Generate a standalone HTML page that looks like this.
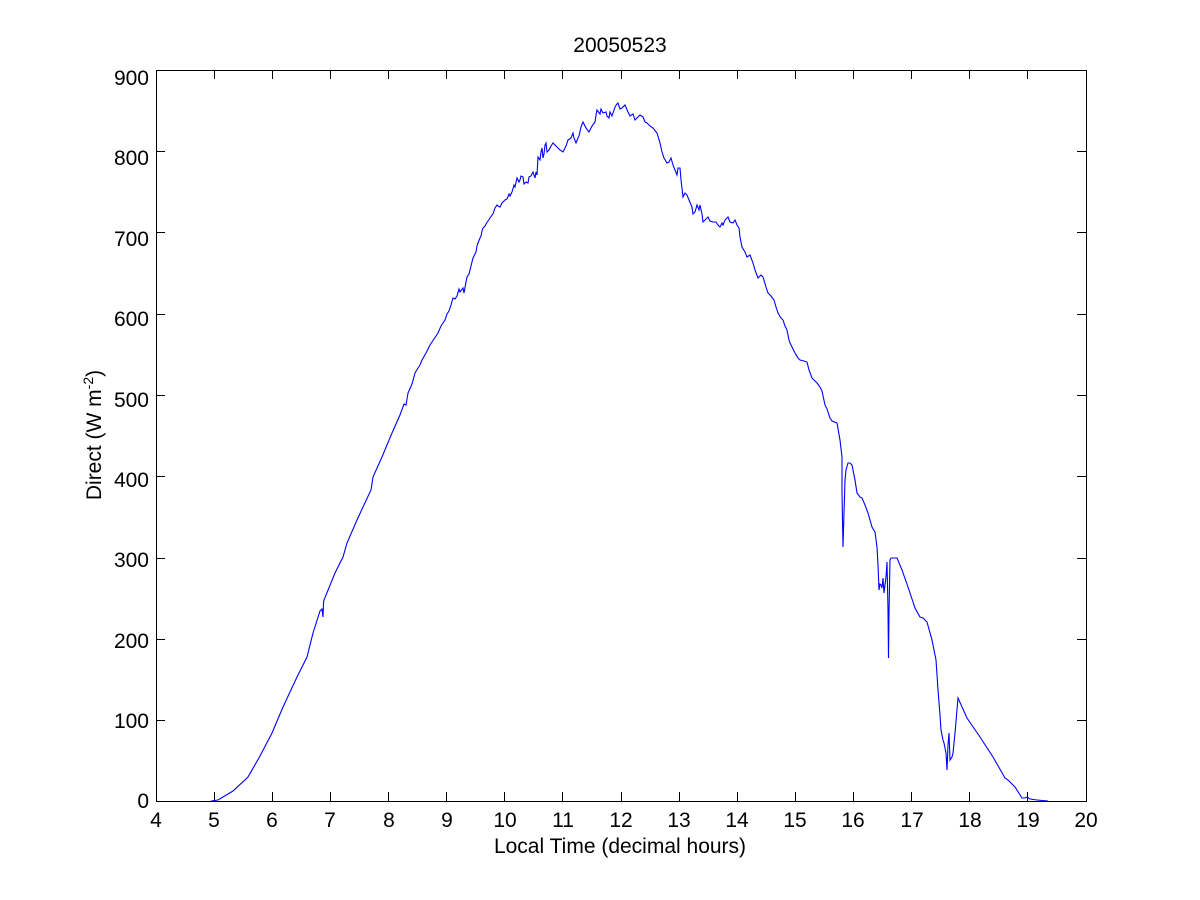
<!DOCTYPE html>
<html>
<head>
<meta charset="utf-8">
<style>
html,body{margin:0;padding:0;background:#fff;}
svg{display:block;}
text{font-family:"Liberation Sans",Arial,sans-serif;font-size:21px;fill:#000;}
</style>
</head>
<body>
<svg width="1200" height="900" viewBox="0 0 1200 900" xmlns="http://www.w3.org/2000/svg">
<rect x="0" y="0" width="1200" height="900" fill="#fff"/>
<!-- axes box -->
<rect x="156.5" y="70.5" width="930" height="731" fill="none" stroke="#000" stroke-width="1"/>
<!-- x ticks -->
<g stroke="#000" stroke-width="1">
<path d="M214.5,801V792M214.5,70V79
M272.5,801V792M272.5,70V79
M330.5,801V792M330.5,70V79
M388.5,801V792M388.5,70V79
M446.5,801V792M446.5,70V79
M504.5,801V792M504.5,70V79
M562.5,801V792M562.5,70V79
M621.5,801V792M621.5,70V79
M679.5,801V792M679.5,70V79
M737.5,801V792M737.5,70V79
M795.5,801V792M795.5,70V79
M853.5,801V792M853.5,70V79
M911.5,801V792M911.5,70V79
M969.5,801V792M969.5,70V79
M1027.5,801V792M1027.5,70V79"/>
<!-- y ticks -->
<path d="M156,720.5H165M1086,720.5H1077
M156,639.5H165M1086,639.5H1077
M156,558.5H165M1086,558.5H1077
M156,476.5H165M1086,476.5H1077
M156,395.5H165M1086,395.5H1077
M156,314.5H165M1086,314.5H1077
M156,232.5H165M1086,232.5H1077
M156,151.5H165M1086,151.5H1077"/>
</g>
<!-- x tick labels -->
<g text-anchor="middle">
<text x="156" y="827">4</text>
<text x="214" y="827">5</text>
<text x="272" y="827">6</text>
<text x="330" y="827">7</text>
<text x="389" y="827">8</text>
<text x="447" y="827">9</text>
<text x="505" y="827">10</text>
<text x="563" y="827">11</text>
<text x="621" y="827">12</text>
<text x="679" y="827">13</text>
<text x="737" y="827">14</text>
<text x="795" y="827">15</text>
<text x="853" y="827">16</text>
<text x="912" y="827">17</text>
<text x="970" y="827">18</text>
<text x="1028" y="827">19</text>
<text x="1086" y="827">20</text>
</g>
<!-- y tick labels -->
<g text-anchor="end">
<text x="149" y="808">0</text>
<text x="149" y="728">100</text>
<text x="149" y="648">200</text>
<text x="149" y="567">300</text>
<text x="149" y="487">400</text>
<text x="149" y="407">500</text>
<text x="149" y="326">600</text>
<text x="149" y="246">700</text>
<text x="149" y="165">800</text>
<text x="149" y="85">900</text>
</g>
<!-- title and labels -->
<text x="620" y="52" text-anchor="middle">20050523</text>
<text x="620" y="853" text-anchor="middle">Local Time (decimal hours)</text>
<text transform="translate(101,435) rotate(-90)" text-anchor="middle">Direct (W m<tspan dy="-8" font-size="14">-2</tspan><tspan dy="8">)</tspan></text>
<!-- data -->
<polyline fill="none" stroke="#0000ff" stroke-width="1.1" stroke-linejoin="miter" points="
211,801 218,800 233,791 248,777 260,756 272,733 283,707 297,677 307,657 313,633 320,611 322,609 323,617 323.5,603 324,600 335,573 343,557 347,543 357,520 363,507 371,490 373,477 382,457 392,433 400,415 404,404 406,405 408,393 412,384 415,373 418,368 420,365 422,360 426,353 430,345 434,339 438,333 441,326 445,320 447,314 449,311 451,305 453,298 455,299 457,296 459,289 460,292 463,288 464,293 466,282 467,277 469,274 470,270 472,262 473,258 475,254 476,252 477,246 478,243 480,238 481,236 482,231 483,228 485,226 486,224 488,221 490,218 492,215 493,214 495,208 497,205 498,206 500,207 502,203 503,202 505,200 507,199 509,194 510,196 512,192 514,185 515,187 517,178 519,182 520,180 521,176 523,177 524,184 526,182 528,183 529,177 531,176 533,172 535,178 536,172 537,175 538,157 540,160 541,152 542,148 543,158 544,154 545,145 546,143 547,152 549,150 551,146 553,143 556,146 560,150 563,152 566,146 568,140 571,138 573,133 574,138 576,143 578,138 579,136 581,127 583,122 586,128 589,132 592,126 595,122 596,115 597,110 600,114 601,109 603,113 606,112 607,116 609,118 610,112 612,116 614,110 615,107 617,104 618,103 620,109 622,108 625,105 628,112 630,116 633,114 635,120 637,118 640,115 643,117 645,122 647,123 650,126 653,128 657,133 660,143 662,152 664,158 667,163 669,162 671,158 673,165 675,170 677,175 678,168 680,168 681,180 683,197 685,193 687,195 689,200 692,207 693,214 695,212 697,205 699,210 700,205 702,214 703,222 705,220 708,217 710,221 713,222 716,222 718,225 720,227 722,223 723,225 725,220 728,217 730,222 733,223 735,220 737,225 739,228 740,237 742,247 745,252 747,257 750,255 753,263 755,270 758,278 761,275 763,277 766,287 768,293 771,296 774,300 776,307 778,313 781,318 783,320 785,326 787,330 789,340 790,343 793,349 795,353 798,358 800,360 804,361 807,362 809,370 812,378 815,381 817,383 820,387 822,391 825,405 827,409 830,418 832,421 837,423 840,440 842,457 842,493 843,547 844,513 845,480 846,470 848,463 850,463 852,465 855,480 857,493 860,497 862,498 865,505 868,513 872,527 875,532 877,547 878,565 879,590 880,584 881,585 882,588 883,578 884,593 886,577 887,562 888,610 888.5,658 889,613 890,560 891,558 897,558 902,570 908,587 915,608 920,617 923,618 927,622 932,640 936,660 938,690 940,715 941,730 943,740 944,743 946,753 947,770 948,745 949,733 950,760 952,757 953,753 955,733 958,698 967,718 980,737 993,757 1005,778 1008,780 1015,787 1022,798 1025,798 1027,797 1030,799 1037,800 1048,801"/>
</svg>
</body>
</html>
